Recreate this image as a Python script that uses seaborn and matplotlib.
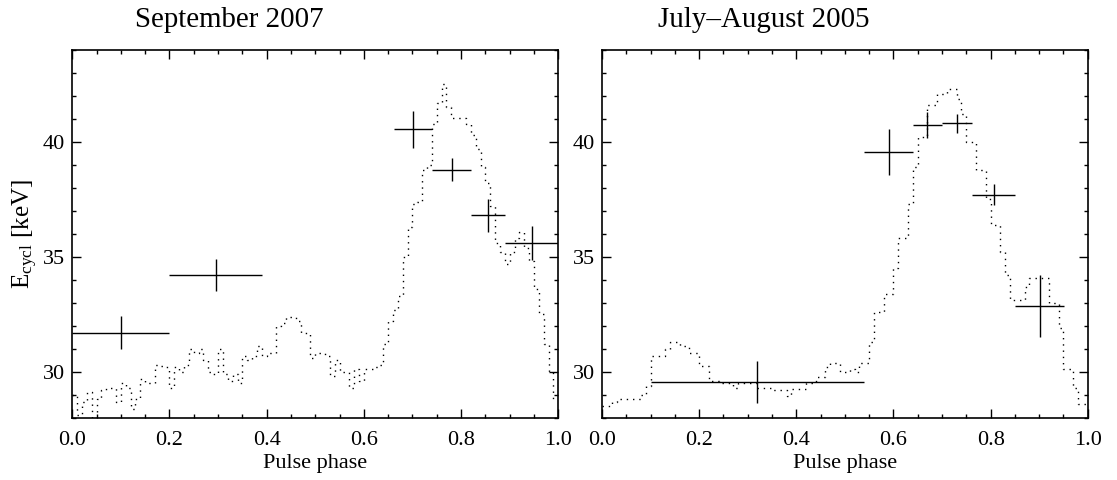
import numpy as np
import pandas as pd
import matplotlib
matplotlib.use("Agg")
import matplotlib.pyplot as plt
from matplotlib.ticker import MultipleLocator, FormatStrFormatter
import seaborn as sns

# ---------------- data ----------------
titles = ["September 2007", "July\u2013August 2005"]

# pulse-profile (dotted step curve), 100 phase bins each
profile_2007 = [
    29.0, 28.1, 28.7, 29.1, 28.0, 28.8, 29.2, 29.3, 29.3, 28.7,
    29.5, 29.3, 28.4, 28.8, 29.7, 29.5, 29.5, 30.3, 30.25, 30.2,
    29.3, 30.2, 30.0, 30.3, 31.0, 30.8, 31.0, 30.5, 30.0, 29.9,
    31.0, 29.9, 29.6, 29.9, 29.5, 30.7, 30.5, 30.7, 31.1, 30.7,
    30.8, 30.8, 32.0, 32.1, 32.4, 32.4, 32.2, 31.7, 31.7, 30.6,
    30.8, 30.8, 30.7, 29.8, 30.5, 30.0, 30.0, 29.3, 30.1, 29.6,
    30.1, 30.1, 30.2, 30.3, 31.2, 32.2, 32.7, 33.3, 35.0, 36.3,
    37.3, 37.4, 38.8, 39.0, 40.8, 41.7, 42.5, 41.5, 41.05, 41.05,
    41.05, 40.8, 40.3, 39.7, 38.9, 38.2, 37.2, 35.6, 35.2, 34.7,
    35.2, 35.8, 36.1, 35.4, 34.8, 33.6, 32.5, 31.2, 30.0, 28.8,
]
profile_2005 = [
    28.5, 28.5, 28.7, 28.8, 28.8, 28.8, 28.8, 28.8, 29.0, 29.4,
    30.7, 30.7, 30.7, 31.0, 31.3, 31.3, 31.1, 31.1, 30.8, 30.8,
    30.25, 30.25, 29.6, 29.6, 29.5, 29.5, 29.5, 29.3, 29.5, 29.5,
    29.5, 29.5, 29.3, 29.3, 29.3, 29.2, 29.2, 29.2, 28.95, 29.25,
    29.25, 29.25, 29.5, 29.5, 29.75, 29.75, 30.2, 30.4, 30.4, 30.0,
    30.0, 30.1, 30.0, 30.4, 30.4, 31.3, 32.6, 32.6, 33.4, 33.4,
    34.5, 35.8, 35.8, 37.3, 38.9, 40.2, 40.2, 41.6, 41.6, 42.1,
    42.1, 42.3, 42.3, 41.85, 41.2, 40.0, 40.0, 38.8, 38.8, 37.5,
    36.4, 36.4, 35.2, 34.2, 33.1, 33.1, 33.1, 33.7, 34.1, 34.1,
    34.1, 34.1, 33.0, 33.0, 31.9, 30.1, 30.1, 29.3, 28.6, 28.6,
]

# cyclotron line energies: phase-bin edges, energy, 1-sigma error
lo_2007 = [0.0, 0.2, 0.661, 0.741, 0.820, 0.891]
hi_2007 = [0.2, 0.39, 0.741, 0.820, 0.891, 1.0]
e_2007 = [31.7, 34.2, 40.55, 38.8, 36.8, 35.6]
err_2007 = [0.72, 0.70, 0.80, 0.52, 0.73, 0.75]

lo_2005 = [0.1, 0.54, 0.64, 0.699, 0.761, 0.851]
hi_2005 = [0.54, 0.64, 0.699, 0.761, 0.851, 0.951]
e_2005 = [29.57, 39.56, 40.75, 40.82, 37.7, 32.88]
err_2005 = [0.91, 1.0, 0.56, 0.41, 0.46, 1.35]

xticks = [0.0, 0.2, 0.4, 0.6, 0.8, 1.0]
yticks = [30, 35, 40]

# ---------------- style ----------------
sns.set_theme(style="ticks")
plt.rcParams["font.family"] = ["Liberation Serif", "DejaVu Serif"]
plt.rcParams["mathtext.fontset"] = "custom"
plt.rcParams["mathtext.rm"] = "Liberation Serif"
plt.rcParams["mathtext.it"] = "Liberation Serif:italic"
plt.rcParams["text.color"] = "black"
plt.rcParams["axes.labelcolor"] = "black"

fig = plt.figure(figsize=(11.17, 4.80), dpi=100)
ax1 = fig.add_axes([0.0647, 0.1298, 0.4351, 0.7660])
ax2 = fig.add_axes([0.5390, 0.1298, 0.4348, 0.7660])

panels = [
    (ax1, profile_2007, lo_2007, hi_2007, e_2007, err_2007, titles[0], 0.129),
    (ax2, profile_2005, lo_2005, hi_2005, e_2005, err_2005, titles[1], 0.115),
]

for ax, prof, lo, hi, e, err, title, tx in panels:
    n = len(prof)
    df = pd.DataFrame({"phase": np.arange(n + 1) / n,
                       "E": list(prof) + [prof[-1]]})
    sns.lineplot(data=df, x="phase", y="E", ax=ax, color="black",
                 linewidth=1.0, drawstyle="steps-post",
                 linestyle=(0, (1, 3.5)), estimator=None, sort=False)
    lo = np.asarray(lo); hi = np.asarray(hi)
    xc = (lo + hi) / 2
    ax.errorbar(xc, e, xerr=(hi - lo) / 2, yerr=err, fmt="none",
                ecolor="black", elinewidth=1.0, capsize=0)

    ax.set_xlim(0, 1)
    ax.set_ylim(28, 44)
    ax.set_xticks(xticks)
    ax.set_yticks(yticks)
    ax.xaxis.set_minor_locator(MultipleLocator(0.05))
    ax.yaxis.set_minor_locator(MultipleLocator(1))
    ax.xaxis.set_major_formatter(FormatStrFormatter("%.1f"))
    ax.tick_params(which="both", direction="in", top=True, right=True,
                   colors="black", labelsize=16)
    ax.tick_params(which="major", length=6.5, width=1.0)
    ax.tick_params(which="minor", length=3.2, width=1.0)
    ax.tick_params(axis="x", which="major", pad=9.5)
    ax.tick_params(axis="y", which="major", pad=5)
    for sp in ax.spines.values():
        sp.set_visible(True)
        sp.set_linewidth(1.2)
        sp.set_color("black")
    ax.set_xlabel("Pulse phase", fontsize=16, labelpad=3)
    ax.set_ylabel("")
    ax.text(tx, 1.063, title, transform=ax.transAxes, fontsize=20.8,
            ha="left", va="baseline", color="black")

ax1.set_ylabel(r"E$_{\rm cycl}$ [keV]", fontsize=18, labelpad=2)

fig.savefig("out.png", dpi=100)
